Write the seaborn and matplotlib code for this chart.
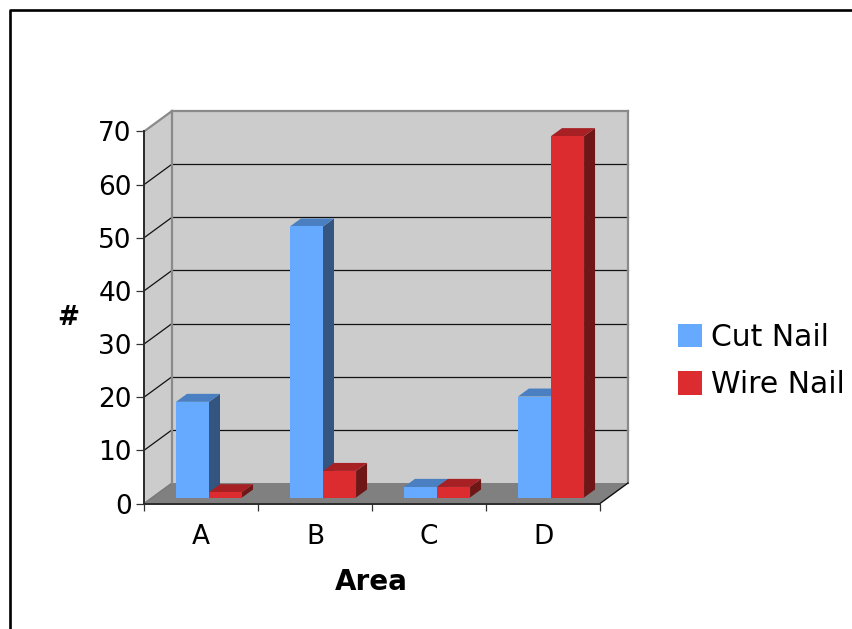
import matplotlib
matplotlib.use("Agg")
import matplotlib.pyplot as plt
import pandas as pd
import seaborn as sns
from matplotlib.lines import Line2D
from matplotlib.patches import Polygon
from matplotlib.transforms import IdentityTransform

areas = ["A", "B", "C", "D"]
cut_nail = [18, 51, 2, 19]
wire_nail = [1, 5, 2, 68]
series_names = ["Cut Nail", "Wire Nail"]
y_ticks = [0, 10, 20, 30, 40, 50, 60, 70]

FRONT = {"Cut Nail": "#66aaff", "Wire Nail": "#dd2c30"}
TOP = {"Cut Nail": "#4a80c2", "Wire Nail": "#a62024"}
SIDE = {"Cut Nail": "#335580", "Wire Nail": "#6f1616"}
WALL = "#cccccc"
FLOOR = "#808080"
EDGE = "#8a8a8a"
TICK_SIZE = 19.0
LEGEND_SIZE = 21.5
LABEL_SIZE = 20.0

W, H = 853, 629
LEFT, RIGHT, BASE, TOP_Y = 144, 600, 503.5, 131.5
WALL_DX, WALL_DY = 28, 20.5       # depth of the chart box, in pixels
BAR_DX, BAR_DY = 8, 6             # bars stand part way back on the floor
BAR_DEPTH_X, BAR_DEPTH_Y = 11, 8  # depth of each bar, in pixels

sns.set_theme(style="white", rc={"font.family": "DejaVu Sans"})
fig = plt.figure(figsize=(W / 100, H / 100), dpi=100)
ax = fig.add_axes([LEFT / W, 1 - BASE / H, (RIGHT - LEFT) / W, (BASE - TOP_Y) / H])
ax.patch.set_alpha(0)

df = pd.DataFrame({
    "Area": areas * 2,
    "Count": cut_nail + wire_nail,
    "Nail": [series_names[0]] * len(areas) + [series_names[1]] * len(areas),
})
sns.barplot(data=df, x="Area", y="Count", hue="Nail", palette=FRONT, order=areas,
            hue_order=series_names, width=0.58, gap=0, saturation=1, linewidth=0, ax=ax)
ax.set_xlim(-0.5, len(areas) - 0.5)
ax.set_ylim(0, y_ticks[-1])


def add_poly(points, color, z):
    ax.add_patch(Polygon(points, closed=True, facecolor=color, edgecolor="none",
                         transform=IdentityTransform(), clip_on=False, zorder=z))


def add_line(p, q, color, width, z):
    ax.add_line(Line2D([p[0], q[0]], [p[1], q[1]], color=color, lw=width,
                       transform=IdentityTransform(), clip_on=False, zorder=z,
                       solid_capstyle="projecting"))


to_px = ax.transData.transform
x0, x1 = ax.get_xlim()
(fl, fb), (fr, ft) = to_px((x0, 0)), to_px((x1, y_ticks[-1]))

# Box: back wall, side wall and floor
add_poly([(fl + WALL_DX, fb + WALL_DY), (fr + WALL_DX, fb + WALL_DY),
          (fr + WALL_DX, ft + WALL_DY), (fl + WALL_DX, ft + WALL_DY)], WALL, 0.5)
add_poly([(fl, fb), (fl + WALL_DX, fb + WALL_DY), (fl + WALL_DX, ft + WALL_DY), (fl, ft)], WALL, 0.5)
add_poly([(fl, fb), (fr, fb), (fr + WALL_DX, fb + WALL_DY), (fl + WALL_DX, fb + WALL_DY)], FLOOR, 0.6)

# Grid lines wrap from the side wall onto the back wall
for v in y_ticks[1:-1]:
    _, py = to_px((x0, v))
    add_line((fl, py), (fl + WALL_DX, py + WALL_DY), "#111111", 0.9, 1)
    add_line((fl + WALL_DX, py + WALL_DY), (fr + WALL_DX, py + WALL_DY), "#111111", 0.9, 1)

# Box outline
add_line((fl + WALL_DX, fb + WALL_DY), (fl + WALL_DX, ft + WALL_DY), EDGE, 1.6, 1.5)
add_line((fl + WALL_DX, ft + WALL_DY), (fr + WALL_DX, ft + WALL_DY), EDGE, 1.6, 1.5)
add_line((fr + WALL_DX, ft + WALL_DY), (fr + WALL_DX, fb + WALL_DY), EDGE, 1.6, 1.5)
add_line((fl, ft), (fl + WALL_DX, ft + WALL_DY), EDGE, 1.6, 1.5)
add_line((fr, fb), (fr + WALL_DX, fb + WALL_DY), "#111111", 1.0, 1.5)
add_line((fl, fb), (fl + WALL_DX, fb + WALL_DY), "#777777", 1.0, 0.7)

# Extrude every bar: side and top faces come from the drawn bar's own extent
for s, (container, name) in enumerate(zip(ax.containers, series_names)):
    for c, bar in enumerate(container.patches):
        left, value = bar.get_x(), bar.get_height()
        right = left + bar.get_width()
        (xa, ya), (xb, yb) = to_px((left, 0)), to_px((right, value))
        xa, xb = xa + BAR_DX, xb + BAR_DX
        ya, yb = ya + BAR_DY, yb + BAR_DY
        z = 3 + c + s * 0.1
        add_poly([(xb, ya), (xb + BAR_DEPTH_X, ya + BAR_DEPTH_Y),
                  (xb + BAR_DEPTH_X, yb + BAR_DEPTH_Y), (xb, yb)], SIDE[name], z)
        add_poly([(xa, yb), (xb, yb), (xb + BAR_DEPTH_X, yb + BAR_DEPTH_Y),
                  (xa + BAR_DEPTH_X, yb + BAR_DEPTH_Y)], TOP[name], z)
        bar.set_transform(IdentityTransform())
        bar.set_bounds(xa, ya, xb - xa, yb - ya)
        bar.set_clip_on(False)
        bar.set_zorder(z + 0.05)

# Axes, ticks and labels
sns.despine(ax=ax)
for side in ("left", "bottom"):
    ax.spines[side].set_color("#2a2a2a")
    ax.spines[side].set_linewidth(1.4)
    ax.spines[side].set_zorder(2)
ax.set_yticks(y_ticks)
ax.set_xticks([i - 0.5 for i in range(len(areas) + 1)], labels=[""] * (len(areas) + 1))
ax.set_xticks(range(len(areas)), labels=areas, minor=True)
ax.tick_params(axis="y", which="major", left=True, length=5.8, width=0.9, color="#333333",
               labelsize=TICK_SIZE, pad=3.0, labelcolor="black")
ax.tick_params(axis="x", which="major", bottom=True, length=5.2, width=0.9, color="#333333")
ax.tick_params(axis="x", which="minor", bottom=False, length=0, labelsize=TICK_SIZE,
               pad=14.5, labelcolor="black")
ax.grid(False)

ax.set_xlabel("Area", fontweight="bold", fontsize=LABEL_SIZE, color="black")
ax.xaxis.set_label_coords((371 - LEFT) / (RIGHT - LEFT), (BASE - 582) / (BASE - TOP_Y))
ax.xaxis.label.set_verticalalignment("center")
ax.set_ylabel("#", fontweight="bold", fontsize=TICK_SIZE, rotation=0, color="black",
              ha="center", va="center")
ax.yaxis.set_label_coords((68 - LEFT) / (RIGHT - LEFT), (BASE - 318) / (BASE - TOP_Y))

sns.move_legend(ax, "center left", bbox_to_anchor=(678 / W, 1 - 361 / H),
                bbox_transform=fig.transFigure, title=None, frameon=False,
                fontsize=LEGEND_SIZE, handlelength=0.8, handleheight=0.83,
                handletextpad=0.29, labelspacing=0.62, borderpad=0, borderaxespad=0)
for text in ax.get_legend().get_texts():
    text.set_color("black")

# Outer frame, open at the right and bottom
fig.add_artist(Line2D([9.8 / W, 9.8 / W, 1], [0, 1 - 9.8 / H, 1 - 9.8 / H],
                      color="black", lw=1.9, transform=fig.transFigure))

fig.savefig("out.png", dpi=100, facecolor="white")
